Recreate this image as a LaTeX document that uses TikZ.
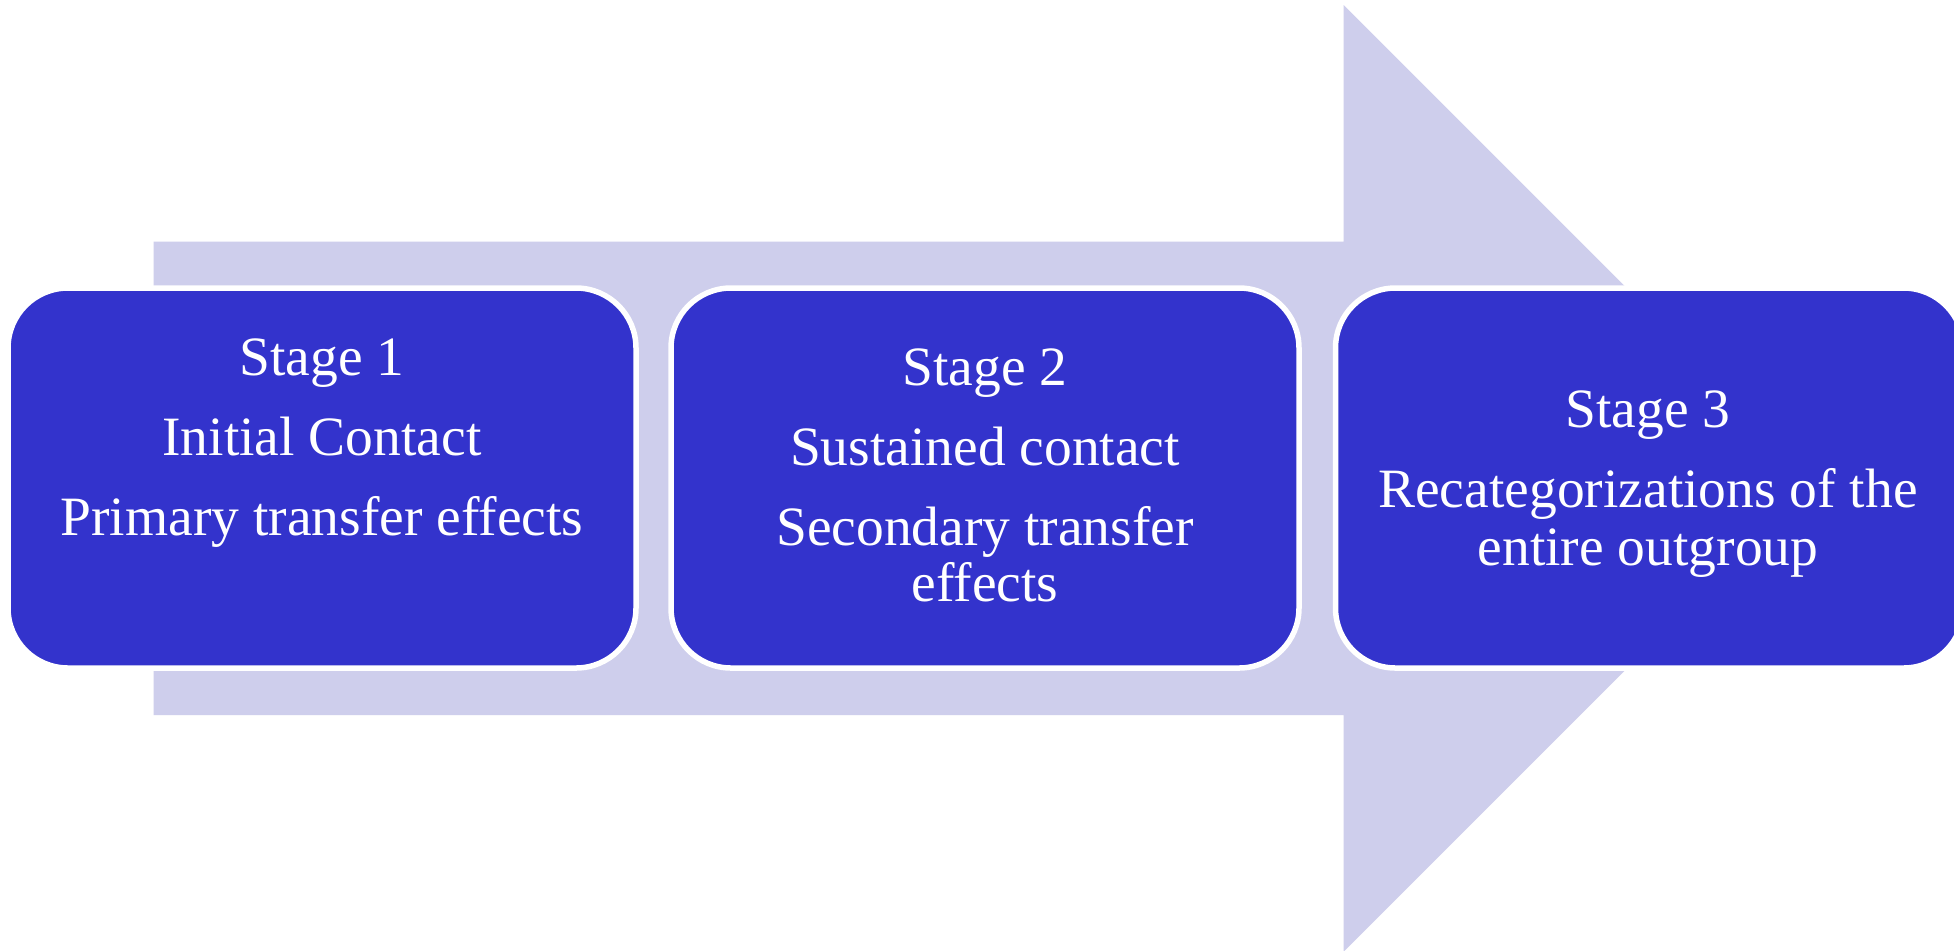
\documentclass[tikz,border=0pt]{standalone}
\usepackage{fontspec}
\setmainfont{Liberation Serif}
\definecolor{shaft}{RGB}{206,206,236}
\definecolor{stagefill}{RGB}{51,51,204}
\begin{document}
\begin{tikzpicture}[x=0.5pt,y=-0.5pt,
  stagebox/.style={draw=white, line width=2.75pt, fill=stagefill,
    rounded corners=30pt, inner sep=0pt,
    minimum width=314pt, minimum height=190pt},
  txt/.style={anchor=base, inner sep=0pt, text=white,
    font=\fontsize{27.75}{28.5}\selectfont}]
  % canvas
  \useasboundingbox (0,0) rectangle (1954,950);
  \fill[white] (0,0) rectangle (1954,950);

  % background block arrow
  \fill[shaft] (153.5,241.7) -- (1343.7,241.7) -- (1343.7,5) -- (1817,478.3)
    -- (1343.7,951.6) -- (1343.7,715) -- (153.5,715) -- cycle;

  % stage boxes
  \node[stagebox] (b1) at (322,478) {};
  \node[stagebox] (b2) at (985,478) {};
  \node[stagebox] (b3) at (1649.5,478) {};

  % stage 1
  \node[txt] (t1a) at (322,375) {Stage 1};
  \node[txt] (t1b) at (322,455) {Initial Contact};
  \node[txt] (t1c) at (322,535) {Primary transfer effects};

  % stage 2
  \node[txt] (t2a) at (985,385) {Stage 2};
  \node[txt] (t2b) at (985,465) {Sustained contact};
  \node[txt] (t2c) at (985,545) {Secondary transfer};
  \node[txt] (t2d) at (985,601) {effects};

  % stage 3
  \node[txt] (t3a) at (1648,427) {Stage 3};
  \node[txt] (t3b) at (1648,507) {Recategorizations of the};
  \node[txt] (t3c) at (1648,565) {entire outgroup};
\end{tikzpicture}
\end{document}
